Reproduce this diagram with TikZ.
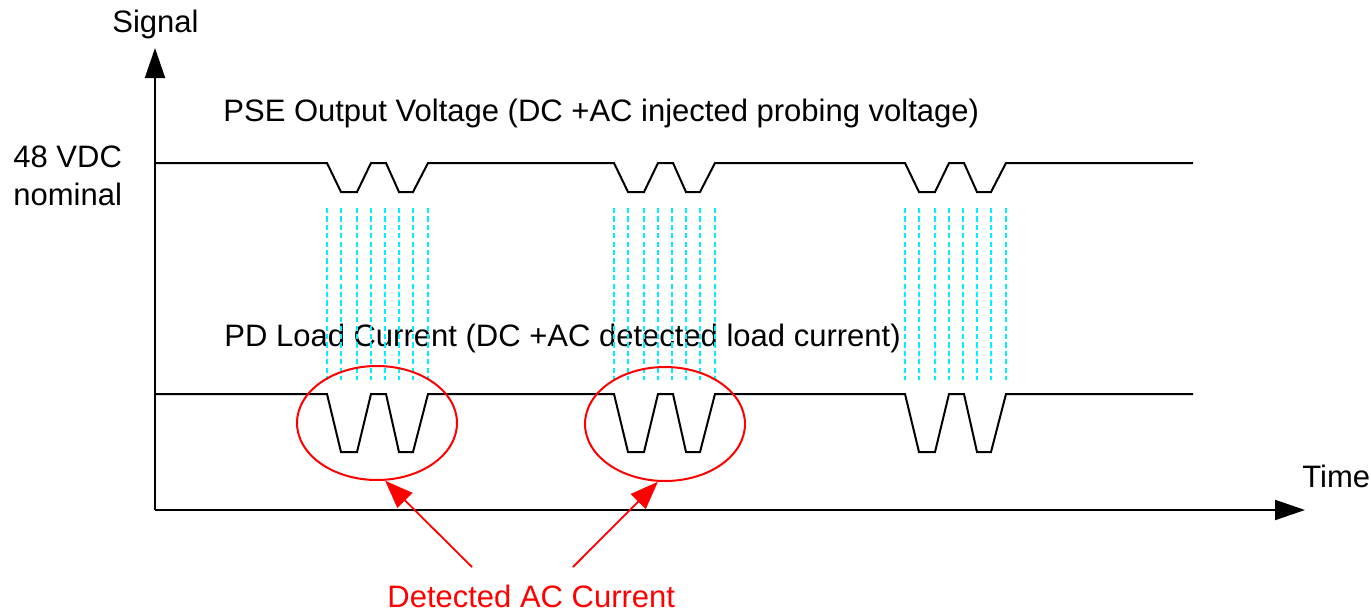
\documentclass[tikz,border=0pt]{standalone}
\usepackage{fontspec}
\setmainfont{Liberation Sans}
\usetikzlibrary{arrows.meta,shapes.geometric}
\definecolor{probecyan}{RGB}{0,240,255}
\definecolor{callred}{RGB}{255,0,0}
\begin{document}
\begin{tikzpicture}[x=0.5pt,y=-0.5pt,
  lbl/.style={inner sep=0pt,anchor=base west,font=\fontsize{15.5}{18}\selectfont},
  wave/.style={line width=1pt,black,line join=miter},
  axis/.style={line width=1pt,-{Triangle[length=15pt,width=10pt]}},
  probe/.style={probecyan,line width=1.1pt,dash pattern=on 2.6pt off 1.6pt},
  ring/.style={draw=callred,line width=1pt,ellipse,minimum width=80pt,minimum height=57pt,inner sep=0pt},
  callout/.style={callred,line width=0.9pt,-{Triangle[length=14pt,width=10.5pt]}}]
\useasboundingbox (0,0) rectangle (1371,611);
% axes
\coordinate (o) at (155,510);
\coordinate (ytip) at (155,48);
\coordinate (xtip) at (1305,510);
\draw[axis] (o) -- (ytip);
\draw[axis] (o) -- (xtip);
\node[lbl] (sig) at (112,32) {Signal};
\node[lbl] (time) at (1302,487) {Time};
\node[lbl] (v48) at (13,167) {48 VDC};
\node[lbl] (nom) at (13,205) {nominal};
% labels
\node[lbl] (pse) at (223,121) {PSE Output Voltage (DC +AC injected probing voltage)};
\node[lbl] (pd) at (224,346) {PD Load Current (DC +AC detected load current)};
% voltage waveform
\draw[wave] (155,163) \foreach \s in {327,614,905}{ -- (\s,163) -- ++(14,29) -- ++(16,0) -- ++(14,-29) -- ++(15,0) -- ++(13,29) -- ++(14,0) -- ++(15,-29)} -- (1193,163);
% current waveform
\draw[wave] (155,394) \foreach \s in {327,614,905}{ -- (\s,394) -- ++(14,58) -- ++(16,0) -- ++(14,-58) -- ++(15,0) -- ++(13,58) -- ++(14,0) -- ++(15,-58)} -- (1193,394);
% probe dashes
\foreach \s in {327,614,905}{
  \foreach \d in {0,14,30,44,58,72,86,101}{
    \draw[probe] (\s+\d,208) -- (\s+\d,380);
  }
}
% ellipses
\node[ring] (e1) at (377,423) {};
\node[ring] (e2) at (665,424) {};
% callout
\node[lbl,text=callred] (det) at (387,607) {Detected AC Current};
\coordinate (a1) at (472,567);
\coordinate (a2) at (573,567);
\draw[callout] (a1) -- (e1.-82);
\draw[callout] (a2) -- (e2.-97);
\end{tikzpicture}
\end{document}
